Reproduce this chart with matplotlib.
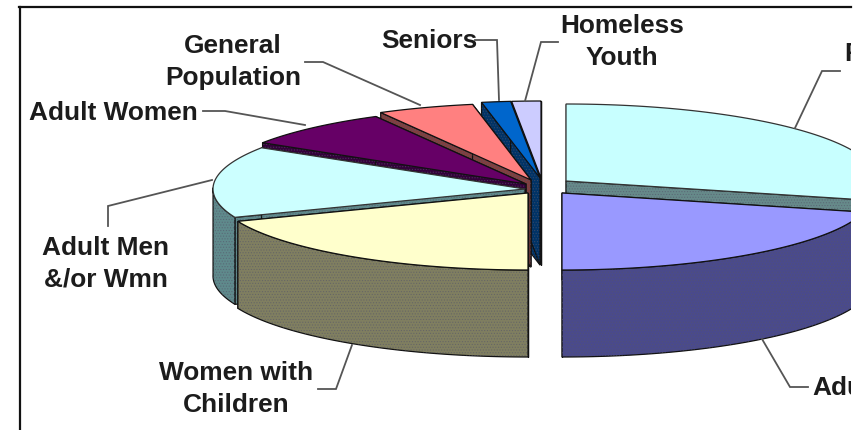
import numpy as np
import matplotlib
matplotlib.use("Agg")
import matplotlib.pyplot as plt
from matplotlib.patches import Polygon, Rectangle

plt.rcParams['font.family'] = ['Liberation Sans', 'DejaVu Sans']
plt.rcParams['hatch.linewidth'] = 0.5

# shares going clockwise from 12 o'clock
slice_values = [29, 21, 19, 15, 8, 5, 1.5, 1.5]

top_colors = ["#c8ffff", "#9999ff", "#ffffcc", "#ccffff",
              "#660066", "#ff8080", "#0066cc", "#ccccff"]
wall_colors = ["#668a8a", "#4a4a8c", "#807f60", "#5f8a8c",
               "#33003a", "#803f3f", "#003366", "#5a5a8c"]

# where each wedge's tip ended up after being pulled out
tips_x = [566, 562, 528, 525, 526, 531, 540, 541]
tips_y = [181, 193, 193, 189, 184, 180, 178, 178]
draw_order = [0, 1, 7, 6, 5, 4, 3, 2]

RX, RY = 312, 77
DEPTH = 87
RIGHT_CLIP = 851

fig = plt.figure(figsize=(8.61, 4.30), dpi=100)
ax = fig.add_axes([0, 0, 1, 1])
ax.set_xlim(0, 861)
ax.set_ylim(430, 0)
ax.axis("off")

clip = Rectangle((19, 7), RIGHT_CLIP - 19, 430, transform=ax.transData)

ends = 90 - np.cumsum(slice_values) / sum(slice_values) * 360
starts = np.concatenate([[90], ends[:-1]])


def add_face(pts, face, edge="#111111", lw=0.9, hatch=None, z=2):
    p = Polygon(pts, closed=True, facecolor=face, edgecolor=edge, linewidth=lw, zorder=z)
    ax.add_patch(p)
    p.set_clip_path(clip)
    if hatch:
        h = Polygon(pts, closed=True, facecolor="none", edgecolor="#55556a",
                    linewidth=0, hatch=hatch, alpha=0.55, zorder=z)
        ax.add_patch(h)
        h.set_clip_path(clip)


for i in draw_order:
    cx, cy = tips_x[i], tips_y[i]
    th = np.radians(np.linspace(starts[i], ends[i], 80))
    arc = np.column_stack([cx + RX * np.cos(th), cy - RY * np.sin(th)])
    tip = np.array([[cx, cy]])
    down = np.array([0, DEPTH])

    # cut faces first, then the outer rim, then the top
    for end_pt in (arc[0], arc[-1]):
        quad = np.array([tip[0], end_pt, end_pt + down, tip[0] + down])
        add_face(quad, wall_colors[i], hatch="......")
    front = arc[np.sin(th) < 0.02]
    if len(front) > 1:
        rim = np.vstack([front, (front + down)[::-1]])
        add_face(rim, wall_colors[i], hatch="......")
    add_face(np.vstack([tip, arc]), top_colors[i], edge="#333333" if i in (0, 3) else "#111111")

# leader lines
leaders = [
    ([305, 323, 420], [62, 62, 105]),
    ([203, 225, 305], [111, 111, 125]),
    ([108, 108, 212], [226, 206, 180]),
    ([475, 497, 499], [40, 40, 100]),
    ([558, 541, 525], [42, 42, 101]),
    ([840, 822, 795], [71, 71, 128]),
    ([318, 336, 352], [389, 389, 345]),
    ([808, 790, 762], [387, 387, 339]),
]
for xs, ys in leaders:
    ln, = ax.plot(xs, ys, color="#555555", lw=1.3, zorder=5, solid_joinstyle="miter")
    ln.set_clip_path(clip)

# labels, the two on the right are cut by the picture edge in the original
labels = [
    ("General\nPopulation", 233, 62, "center"),
    ("Adult Women", 29, 113, "left"),
    ("Seniors", 381, 41, "left"),
    ("Homeless\nYouth", 622, 42, "center"),
    ("Adult Men\n&/or Wmn", 106, 264, "center"),
    ("Women with\nChildren", 236, 389, "center"),
    ("F", 844, 54, "left"),
    ("Adu", 812, 388, "left"),
]
for text, x, y, ha in labels:
    t = ax.text(x, y, text, ha=ha, va="center", fontsize=18.9, fontweight="bold",
                color="#1c1c1c", linespacing=1.38, zorder=6, clip_on=True)
    t.set_clip_path(clip)

# frame: only the left and top sides show
ax.plot([19.5, 19.5], [430, 7], color="#111111", lw=1.6, zorder=7)
ax.plot([19, RIGHT_CLIP], [7, 7], color="#111111", lw=1.6, zorder=7)

fig.savefig("out.png", dpi=100, facecolor="white")
